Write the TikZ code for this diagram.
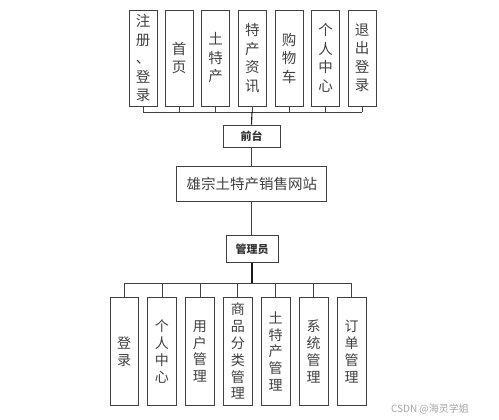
\documentclass[tikz,border=0pt]{standalone}
\usepackage{fontspec}
\setmainfont{Noto Sans CJK SC}
\newfontfamily\cjk{Noto Sans CJK SC}
\begin{document}
\begin{tikzpicture}[x=1pt,y=-1pt,
  line/.style={draw=black!75,line width=0.8pt},
  vbox/.style={draw=black!75,line width=0.8pt,rectangle,inner sep=0pt,text=black!75,
     font=\cjk\fontsize{14.5}{18.5}\selectfont,align=center},
  topbox/.style={vbox,minimum width=28pt,minimum height=96pt},
  botbox/.style={vbox,minimum width=28.5pt,minimum height=108.5pt,font=\cjk\fontsize{14}{16.8}\selectfont},
  hbox/.style={draw=black!75,line width=0.8pt,rectangle,inner sep=0pt,text=black!80,
     font=\cjk\bfseries\fontsize{11}{12}\selectfont}]
\useasboundingbox (0,0) rectangle (499,420);
% top row
\node[topbox] (t1) at (143,58) {注\\册\\、\\登\\录};
\node[topbox] (t2) at (179,58) {首\\页};
\node[topbox] (t3) at (215.5,58) {土\\特\\产};
\node[topbox] (t4) at (252.3,58) {特\\产\\资\\讯};
\node[topbox] (t5) at (289,58) {购\\物\\车};
\node[topbox] (t6) at (325.5,58) {个\\人\\中\\心};
\node[topbox] (t7) at (362,58) {退\\出\\登\\录};
% middle
\node[hbox,minimum width=57pt,minimum height=22pt] (qt) at (251.5,136) {前台};
\node[draw=black!75,line width=0.8pt,rectangle,inner sep=0pt,minimum width=150pt,minimum height=35pt,
  text=black!75,font=\cjk\fontsize{14.5}{16}\selectfont] (main) at (251.8,184.3) {雄宗土特产销售网站};
\node[hbox,minimum width=52pt,minimum height=27.5pt] (gl) at (252,249) {管理员};
% bottom row
\node[botbox] (b1) at (124.2,351.4) {登\\录};
\node[botbox] (b2) at (161.9,351.4) {个\\人\\中\\心};
\node[botbox] (b3) at (199.9,351.4) {用\\户\\管\\理};
\node[botbox] (b4) at (237.8,351.4) {商\\品\\分\\类\\管\\理};
\node[botbox] (b5) at (275.7,351.4) {土\\特\\产\\管\\理};
\node[botbox] (b6) at (313.7,351.4) {系\\统\\管\\理};
\node[botbox] (b7) at (351.7,351.4) {订\\单\\管\\理};
% buses
\coordinate (tb) at (252,112);
\coordinate (bb) at (252,283);
\foreach \i in {1,...,7} {
  \draw[line] (t\i.south) -- (t\i.south |- tb);
  \draw[line] (b\i.north) -- (b\i.north |- bb);
}
\draw[line] (t1.south |- tb) -- (t7.south |- tb);
\draw[line] (b1.north |- bb) -- (b7.north |- bb);
\draw[line,line width=1.1pt,draw=black!90] (tb) -- (qt.north);
\draw[line] (qt.south) -- (qt.south |- main.north);
\draw[line] (main.south) -- (main.south |- gl.north);
\draw[line,line width=1.1pt,draw=black!90] (gl.south) -- (gl.south |- bb);
% watermark
\node[text=black!35,font=\cjk\fontsize{10}{12}\selectfont,inner sep=0pt] (wm) at (430,409) {CSDN @海灵学姐};
\end{tikzpicture}
\end{document}
